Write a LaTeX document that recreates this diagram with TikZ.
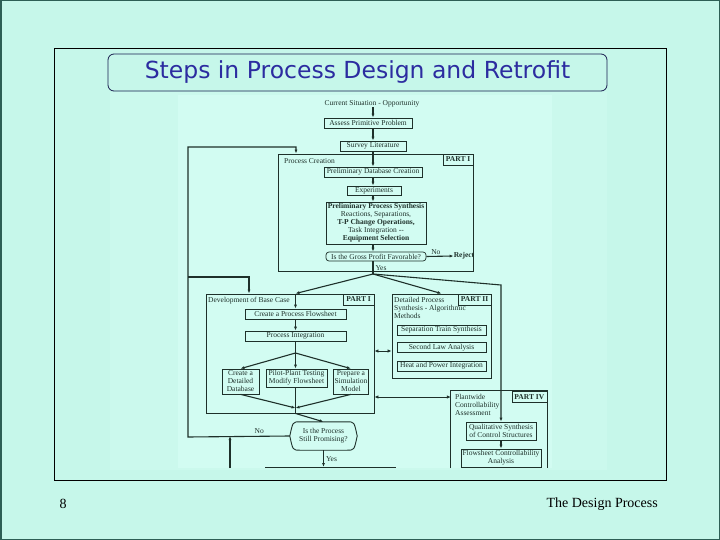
\documentclass[tikz,border=0pt]{standalone}
\usepackage{fontspec}
\usetikzlibrary{arrows.meta}
\newfontfamily\scanfont{Liberation Serif}
\newfontfamily\titlefont{DejaVu Sans}
\definecolor{mint}{RGB}{198,247,234}
\definecolor{midMint}{RGB}{203,249,237}
\definecolor{paleMint}{RGB}{210,252,242}
\definecolor{ink}{RGB}{30,48,42}
\definecolor{titleblue}{RGB}{44,44,160}
\definecolor{rimteal}{RGB}{45,95,85}
\definecolor{titlerim}{RGB}{25,30,80}

\begin{document}
\begin{tikzpicture}[x=1pt, y=-1pt,
  every node/.style={text=ink, font=\scanfont\fontsize{7.5}{8}\selectfont, inner sep=0pt},
  blk/.style={draw=ink, line width=0.7pt, minimum height=10pt, align=center},
  partbox/.style={draw=ink, line width=0.9pt},
  parttag/.style={draw=ink, line width=0.7pt, minimum height=11pt, anchor=north east,
    font=\scanfont\fontsize{7.5}{8}\selectfont\bfseries},
  ln/.style={draw=ink, line width=1.1pt},
  arr/.style={ln, -{Latex[length=4pt,width=3pt]}},
  dblarr/.style={draw=ink, line width=0.9pt, {Latex[length=4pt,width=3.5pt]}-{Latex[length=4pt,width=3.5pt]}}]
\useasboundingbox (0,0) rectangle (720,540);
% slide background
\fill[mint] (0,0) rectangle (720,540);
\draw[rimteal, line width=1.5pt] (0.75,0.75) rectangle (719.25,539.25);
\fill[midMint] (110,92) rectangle (607,470);
\fill[paleMint] (178,95) rectangle (552,468);
\draw[black, line width=1pt] (54.5,48.5) rectangle (666.5,480);
\node[draw=titlerim, line width=0.8pt, rounded corners=6pt, minimum width=499pt, minimum height=37pt,
  text=titleblue, font=\titlefont\fontsize{23.5}{26}\selectfont] (title) at (357.5,72.5)
  {Steps in Process Design and Retrofit};

% part I: process creation
\node (cur) at (372,104) {Current Situation - Opportunity};
\node[blk, minimum width=88pt] (assess) at (368,123) {Assess Primitive Problem};
\node[blk, minimum width=66pt] (survey) at (373,146) {Survey Literature};
\node[partbox, minimum width=195pt, minimum height=117pt] (creation) at (375.5,212.5) {};
\node[parttag, minimum width=30pt] (tagA) at (creation.north east) {PART I};
\node[anchor=west] (creationlab) at (284,161) {Process Creation};
\node[blk, minimum width=98pt] (prelim) at (373,172) {Preliminary Database Creation};
\node[blk, minimum width=54pt, minimum height=9pt] (exper) at (374,190.5) {Experiments};
\node[blk, minimum width=100pt, minimum height=42pt] (synth) at (376,223)
  {{\bfseries Preliminary Process Synthesis}\\Reactions, Separations,\\{\bfseries T-P Change Operations,}\\Task Integration --\\{\bfseries Equipment Selection}};
\node[blk, rounded corners=3pt, minimum width=100pt, minimum height=9pt] (gross) at (376,256.5)
  {Is the Gross Profit Favorable?};
\node[font=\scanfont\fontsize{7.5}{8}\selectfont\bfseries] (reject) at (464,256) {Reject};
\coordinate (fork) at (373,274);

\draw[arr] (cur.south -| survey) -- (assess.north -| survey);
\draw[arr] (assess.south -| survey) -- (survey.north);
\draw[arr] (survey.south) -- (prelim.north -| survey);
\draw[arr] (prelim.south -| survey) -- (exper.north -| survey);
\draw[arr] (exper.south -| survey) -- (synth.north -| survey);
\draw[arr] (synth.south -| survey) -- (gross.north -| survey);
\draw[ln] (gross.south -| survey) -- node[right=2pt, pos=.55] {Yes} (fork);
\draw[arr] (gross.east) -- node[above=1pt, pos=.35] {No} (reject.west);

% base case
\node[partbox, minimum width=168pt, minimum height=119pt] (basecase) at (290,353.5) {};
\node[parttag, minimum width=31pt] (tagB) at (basecase.north east) {PART I};
\node[anchor=west] (baselab) at (208,301) {Development of Base Case};
\node[blk, minimum width=101pt] (flow) at (295.5,314) {Create a Process Flowsheet};
\node[blk, minimum width=101pt] (integ) at (295.5,336) {Process Integration};
\coordinate (split) at (295.5,353);
\node[blk, minimum width=37pt, minimum height=25pt] (db) at (240.5,381.5) {Create a\\Detailed\\Database};
\node[blk, minimum width=61pt, minimum height=18pt] (pilot) at (296.5,378) {Pilot-Plant Testing\\Modify Flowsheet};
\node[blk, minimum width=35pt, minimum height=25pt] (sim) at (351,381.5) {Prepare a\\Simulation\\Model};
\coordinate (merge) at (295.5,408);
\node[minimum width=67pt, minimum height=28pt, align=center] (still) at (323.5,436) {Is the Process\\Still Promising?};

\draw[arr] (fork) -- (flow |- basecase.north);
\draw[arr] (flow |- basecase.north) -- (flow.north);
\draw[arr] (flow) -- (integ);
\draw[ln] (integ.south) -- (split);
\draw[arr] (split) -- (db.north);
\draw[arr] (split) -- (pilot.north -| split);
\draw[arr] (split) -- (sim.north);
\draw[arr] (db.south) -- (merge);
\draw[arr] (sim.south) -- (merge);
\draw[ln] (pilot.south -| split) -- (split |- basecase.south);
\draw[arr] (split |- basecase.south) -- (still.north);
\draw[partbox] ([xshift=10pt]still.north west) -- ([xshift=-10pt]still.north east)
  .. controls ([xshift=-3pt]still.north east) .. (still.east)
  .. controls ([xshift=-3pt]still.south east) .. ([xshift=-10pt]still.south east)
  -- ([xshift=10pt]still.south west)
  .. controls ([xshift=3pt]still.south west) .. (still.west)
  .. controls ([xshift=3pt]still.north west) .. ([xshift=10pt]still.north west);

% feedback loops
\coordinate (lefttop) at (188,147);
\coordinate (leftbot) at (188,437);
\coordinate (fbA) at (296,147);
\coordinate (fbB) at (249,277);
\coordinate (retbot) at (230,468);
\coordinate (nextL) at (265,467);
\coordinate (nextR) at (396,467);
\draw[arr] (still.west) -- node[above=2pt, pos=.3] {No} (leftbot) -- (lefttop) -| (creation.north -| fbA);
\draw[arr] (lefttop |- fbB) -- (fbB) -- (fbB |- basecase.north);
\draw[arr] (retbot) -- (retbot |- still.west);
\draw[arr] (still.south) -- node[right=2pt] {Yes} (still.south |- nextL);
\draw[partbox] (nextL) -- (nextR);

% part II: detailed process synthesis
\node[partbox, minimum width=99pt, minimum height=84pt] (detailed) at (441.5,336) {};
\node[parttag, minimum width=33pt] (tagC) at (detailed.north east) {PART II};
\node[anchor=north west, align=left] (detlab) at (394,297) {Detailed Process\\Synthesis - Algorithmic\\Methods};
\node[blk, minimum width=89pt] (septrain) at (441.5,330) {Separation Train Synthesis};
\node[blk, minimum width=89pt] (second) at (441.5,347.5) {Second Law Analysis};
\node[blk, minimum width=89pt] (heat) at (441.5,366) {Heat and Power Integration};
\draw[arr] (fork) -- (detailed.north);

% part IV: plantwide controllability
\node[minimum width=96pt, minimum height=77pt] (plant) at (499,429.5) {};
\draw[partbox] (plant.south west) |- (plant.north east) -- (plant.south east);
\node[parttag, minimum width=35pt] (tagD) at (plant.north east) {PART IV};
\node[anchor=north west, align=left] (plantlab) at (455,394) {Plantwide\\Controllability\\Assessment};
\node[blk, minimum width=70pt, minimum height=18pt] (qual) at (501,431) {Qualitative Synthesis\\of Control Structures};
\node[blk, minimum width=80pt, minimum height=18pt] (fca) at (501,458) {Flowsheet Controllability\\Analysis};
\coordinate (bend4) at (501,285);
\draw[arr] (fork) -- (bend4) -- (qual.north);
\draw[arr] (qual) -- (fca);

% two-way links
\coordinate (dbl1) at (383,351);
\coordinate (dbl2) at (410,397);
\draw[dblarr] (basecase.east |- dbl1) -- (detailed.west |- dbl1);
\draw[dblarr] (basecase.east |- dbl2) -- (plant.west |- dbl2);

% footer
\node[text=black, font=\scanfont\fontsize{14}{16}\selectfont] (pagenum) at (63,504) {8};
\node[text=black, anchor=east, font=\scanfont\fontsize{14}{16}\selectfont] (footer) at (658,504) {The Design Process};
\end{tikzpicture}
\end{document}
